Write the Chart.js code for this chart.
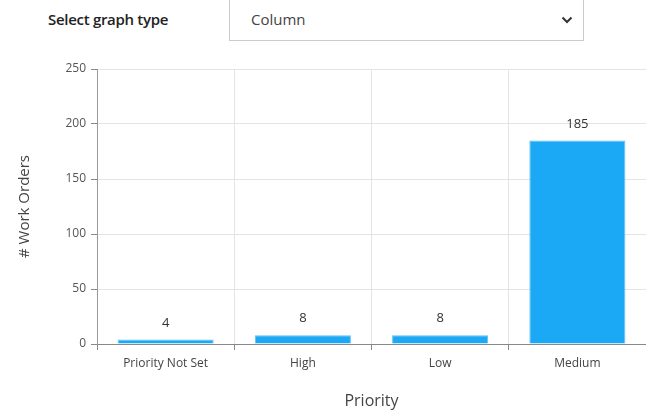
<!DOCTYPE html>
<html>
<head>
<meta charset="utf-8">
<script src="https://cdn.jsdelivr.net/npm/chart.js@4"></script>
<style>
  html, body { margin: 0; padding: 0; background: #fff; }
  body { width: 646px; height: 411px; position: relative; overflow: hidden; font-family: 'Open Sans', sans-serif; }
  .lbl { position: absolute; left: 48px; top: 9px; font-size: 15px; font-weight: 600; color: #222; letter-spacing: -0.3px; }
  .sel { position: absolute; left: 229px; top: -1px; width: 355px; height: 42px; border: 1px solid #ccc; box-sizing: border-box; }
  .sel span { position: absolute; left: 21px; top: 9px; font-size: 15px; color: #444; }
  .sel svg { position: absolute; right: 10px; top: 16px; }
  canvas { position: absolute; left: 0; top: 0; }
</style>
</head>
<body>
<div class="lbl">Select graph type</div>
<div class="sel"><span>Column</span>
  <svg width="12" height="8" viewBox="0 0 12 8"><path d="M1.5 1.5 L6 6 L10.5 1.5" fill="none" stroke="#333" stroke-width="2"/></svg>
</div>
<canvas id="c" width="646" height="411"></canvas>
<script>
// données du graphique
const categories = ['Priority Not Set', 'High', 'Low', 'Medium'];
const workOrders = [4, 8, 8, 185];
const yTicks = [0, 50, 100, 150, 200, 250];

const valueLabels = {
  id: 'valueLabels',
  afterDatasetsDraw(chart) {
    const ctx = chart.ctx;
    const meta = chart.getDatasetMeta(0);
    ctx.save();
    ctx.font = "13px 'Open Sans', sans-serif";
    ctx.fillStyle = '#333';
    ctx.textAlign = 'center';
    ctx.textBaseline = 'bottom';
    meta.data.forEach((bar, i) => {
      ctx.fillText(String(workOrders[i]), bar.x, bar.y - 10);
    });
    ctx.restore();
  }
};

new Chart(document.getElementById('c'), {
  type: 'bar',
  data: {
    labels: categories,
    datasets: [{
      data: workOrders,
      backgroundColor: '#1BA9F5',
      borderColor: '#5cc1f7',
      borderWidth: 1,
      categoryPercentage: 0.7,
      barPercentage: 1,
    }],
  },
  options: {
    responsive: false,
    animation: false,
    events: [],
    layout: { padding: { top: 69, right: 0, left: 0, bottom: 0 } },
    plugins: { legend: { display: false }, tooltip: { enabled: false } },
    scales: {
      x: {
        grid: { color: '#e4e4e4', tickColor: '#888', tickLength: 6, offset: true },
        border: { color: '#888' },
        ticks: { color: '#444', font: { family: "'Open Sans', sans-serif", size: 12 }, padding: 6 },
        title: { display: true, text: 'Priority', color: '#444', font: { family: "'Open Sans', sans-serif", size: 16 }, padding: { top: 20, bottom: 0 } },
        afterFit(s) { s.height = 67; },
      },
      y: {
        min: 0, max: 250,
        afterBuildTicks(s) { s.ticks = yTicks.map(v => ({ value: v })); },
        grid: { color: '#e4e4e4', tickColor: '#888', tickLength: 6 },
        border: { color: '#999' },
        ticks: { color: '#555', font: { family: "'Open Sans', sans-serif", size: 12 }, padding: 5 },
        title: { display: true, text: '# Work Orders', color: '#444', font: { family: "'Open Sans', sans-serif", size: 15 }, padding: { top: 16, bottom: 8 } },
        afterFit(s) { s.width = 97; },
      },
    },
  },
  plugins: [valueLabels],
});
</script>
</body>
</html>
